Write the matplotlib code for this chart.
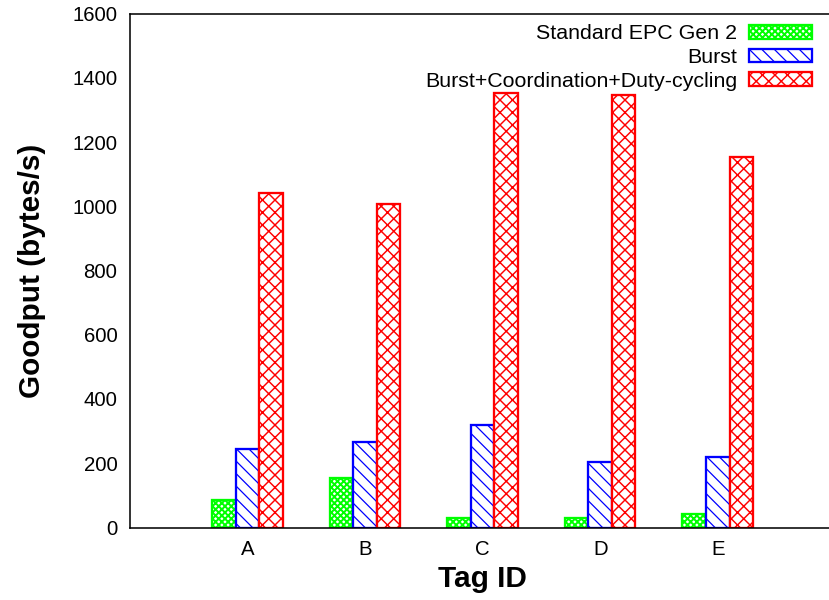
import numpy as np
import matplotlib
matplotlib.use("Agg")
import matplotlib.pyplot as plt

# ── data ──────────────────────────────────────────────────────────────────
tags = ["A", "B", "C", "D", "E"]
epc_gen2 = [86, 155, 30, 30, 42]
burst = [244, 266, 320, 203, 220]
burst_coord_duty = [1040, 1007, 1352, 1347, 1154]

series = [
    ("Standard EPC Gen 2", epc_gen2, "#00ff00", "xxxx", 1.9),
    ("Burst", burst, "#0000ff", "\\\\", 1.2),
    ("Burst+Coordination+Duty-cycling", burst_coord_duty, "#ff0000", "xx", 1.4),
]

plt.rcParams["font.family"] = ["Liberation Sans", "DejaVu Sans"]
plt.rcParams["hatch.linewidth"] = 1.4

DPI = 75
fig = plt.figure(figsize=(829 / DPI, 600 / DPI), dpi=DPI)
# axes run a little past the right edge of the canvas (no right border shown)
ax = fig.add_axes([130 / 829, 72.5 / 600, 705.3 / 829, 514 / 600])

x = np.arange(len(tags))
width = 0.2
for i, (label, vals, color, hatch, hlw) in enumerate(series):
    bars = ax.bar(x + (i - 1) * width, vals, width, facecolor="white",
                  edgecolor=color, hatch=hatch, linewidth=2.2, label=label)
    for b in bars:
        if hasattr(b, "set_hatch_linewidth"):
            b.set_hatch_linewidth(hlw)

ax.set_xlim(-1, 5)
ax.set_ylim(0, 1600)
ax.set_yticks(np.arange(0, 1601, 200))
ax.set_xticks(x)
ax.set_xticklabels(tags)
ax.tick_params(axis="both", length=0, labelsize=19.5, pad=12)

for side in ["left", "top", "bottom"]:
    ax.spines[side].set_linewidth(1.5)
ax.spines["right"].set_visible(False)

ax.set_xlabel("Tag ID", fontsize=28.5, fontweight="bold", labelpad=6)
ax.set_ylabel("Goodput (bytes/s)", fontsize=28.5, fontweight="bold", labelpad=25)

leg = ax.legend(loc="upper right", bbox_to_anchor=(0.967, 0.979), frameon=False,
                markerfirst=False, fontsize=20.5, borderpad=0, borderaxespad=0,
                labelspacing=0.22, handlelength=2.95, handleheight=0.62,
                handletextpad=0.55)
for h, (_, _, _, _, hlw) in zip(leg.legend_handles, series):
    if hasattr(h, "set_hatch_linewidth"):
        h.set_hatch_linewidth(hlw)

fig.savefig("out.png", dpi=DPI)
